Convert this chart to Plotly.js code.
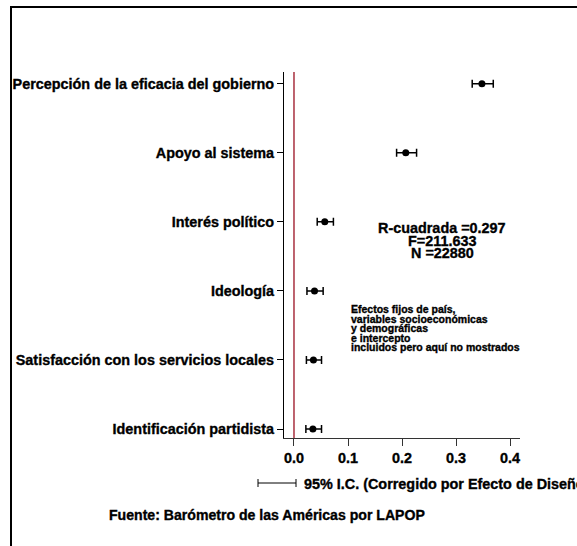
<!DOCTYPE html>
<html>
<head>
<meta charset="utf-8">
<script src="https://cdn.plot.ly/plotly-3.0.1.min.js"></script>
<style>
  html, body { margin: 0; padding: 0; background: #fff; overflow: hidden; }
  #wrap { position: relative; width: 577px; height: 546px; }
  #frame { position: absolute; left: 10px; top: 6px; width: 700px; height: 700px;
           border-left: 2px solid #000; border-top: 2px solid #000; pointer-events: none; z-index: 2; }
  #chart { position: absolute; left: 0; top: 0; width: 577px; height: 546px; }
  #chart svg text { stroke: #000; stroke-width: 0.35px; paint-order: stroke; }
</style>
</head>
<body>
<div id="wrap"><div id="chart"></div><div id="frame"></div></div>
<script>
// Data (top to bottom as displayed)
var categories = [
  "Percepción de la eficacia del gobierno",
  "Apoyo al sistema",
  "Interés político",
  "Ideología",
  "Satisfacción con los servicios locales",
  "Identificación partidista"
];
var coef   = [0.348, 0.207, 0.057, 0.038, 0.036, 0.035];
var ciLow  = [0.330, 0.190, 0.043, 0.024, 0.023, 0.022];
var ciHigh = [0.369, 0.227, 0.073, 0.054, 0.051, 0.051];

var xTickVals = [0, 0.1, 0.2, 0.3, 0.4];
var xTickText = ["0.0", "0.1", "0.2", "0.3", "0.4"];

var statLines = ["R-cuadrada =0.297", "F=211.633", "N =22880"];
var noteLines = [
  "Efectos fijos de país,",
  "variables socioeconómicas",
  "y demográficas",
  "e intercepto",
  "incluidos pero aquí no mostrados"
];
var ciLabel = "95% I.C. (Corregido por Efecto de Diseño)";
var sourceText = "Fuente: Barómetro de las Américas por LAPOP";

var FONT = "Liberation Sans, Arial, sans-serif";
var FS = 14.4;

var errPlus = coef.map(function (c, i) { return ciHigh[i] - c; });
var errMinus = coef.map(function (c, i) { return c - ciLow[i]; });

var trace = {
  type: "scatter",
  mode: "markers",
  x: coef,
  y: categories,
  marker: { color: "#000", size: 7 },
  error_x: {
    type: "data", symmetric: false,
    array: errPlus, arrayminus: errMinus,
    color: "#000", thickness: 1.5, width: 4
  },
  hoverinfo: "skip",
  showlegend: false
};

// plot area in pixels: x 284..520, y 72..438
var L = 284, R = 520, T = 72, B = 438;
function px(X) { return (X - L) / (R - L); }
function py(Y) { return (B - Y) / (B - T); }

var annotations = [];
var statY = [228, 241, 253];
statLines.forEach(function (t, i) {
  annotations.push({
    xref: "paper", yref: "paper", x: px(442), y: py(statY[i]),
    xanchor: "center", yanchor: "middle", showarrow: false, text: t,
    font: { family: FONT, size: FS, color: "#000", weight: "bold" }
  });
});
noteLines.forEach(function (t, i) {
  annotations.push({
    xref: "paper", yref: "paper", x: px(349), y: py(309 + i * 9.5),
    xanchor: "left", yanchor: "middle", showarrow: false, text: t,
    font: { family: FONT, size: 10.5, color: "#000", weight: "bold" }
  });
});
annotations.push({
  xref: "paper", yref: "paper", x: px(302), y: py(484),
  xanchor: "left", yanchor: "middle", showarrow: false, text: ciLabel,
  font: { family: FONT, size: FS, color: "#000", weight: "bold" }
});
annotations.push({
  xref: "paper", yref: "paper", x: px(107), y: py(515),
  xanchor: "left", yanchor: "middle", showarrow: false, text: sourceText,
  font: { family: FONT, size: 14.1, color: "#000", weight: "bold" }
});

var shapes = [
  { type: "line", xref: "x", yref: "paper", x0: 0, x1: 0, y0: 0, y1: 1,
    line: { color: "#a8303f", width: 1.5 }, layer: "below" },
  // CI legend key
  { type: "line", xref: "paper", yref: "paper", x0: px(258), x1: px(296), y0: py(483), y1: py(483),
    line: { color: "#000", width: 1 } },
  { type: "line", xref: "paper", yref: "paper", x0: px(258), x1: px(258), y0: py(479), y1: py(487),
    line: { color: "#000", width: 1 } },
  { type: "line", xref: "paper", yref: "paper", x0: px(296), x1: px(296), y0: py(479), y1: py(487),
    line: { color: "#000", width: 1 } }
];

var layout = {
  width: 577, height: 546,
  margin: { l: L, r: 577 - R, t: T, b: 546 - B, pad: 0 },
  paper_bgcolor: "#fff", plot_bgcolor: "#fff",
  font: { family: FONT, size: FS, color: "#000", weight: "bold" },
  showlegend: false,
  xaxis: {
    range: [-0.0185, 0.4185],
    tickvals: xTickVals, ticktext: xTickText,
    ticks: "outside", ticklen: 7, tickwidth: 1, tickcolor: "#333",
    showline: true, linecolor: "#333", linewidth: 1,
    showgrid: false, zeroline: false,
    tickfont: { family: FONT, size: FS, color: "#000", weight: "bold" }
  },
  yaxis: {
    type: "category",
    categoryorder: "array",
    categoryarray: categories.slice().reverse(),
    range: [-0.13, 5.17],
    ticks: "outside", ticklen: 6, tickwidth: 1, tickcolor: "#000",
    showline: true, linecolor: "#000", linewidth: 1,
    showgrid: false, zeroline: false,
    tickfont: { family: FONT, size: FS, color: "#000", weight: "bold" }
  },
  annotations: annotations,
  shapes: shapes
};

Plotly.newPlot("chart", [trace], layout, { displayModeBar: false, staticPlot: true });
</script>
</body>
</html>
